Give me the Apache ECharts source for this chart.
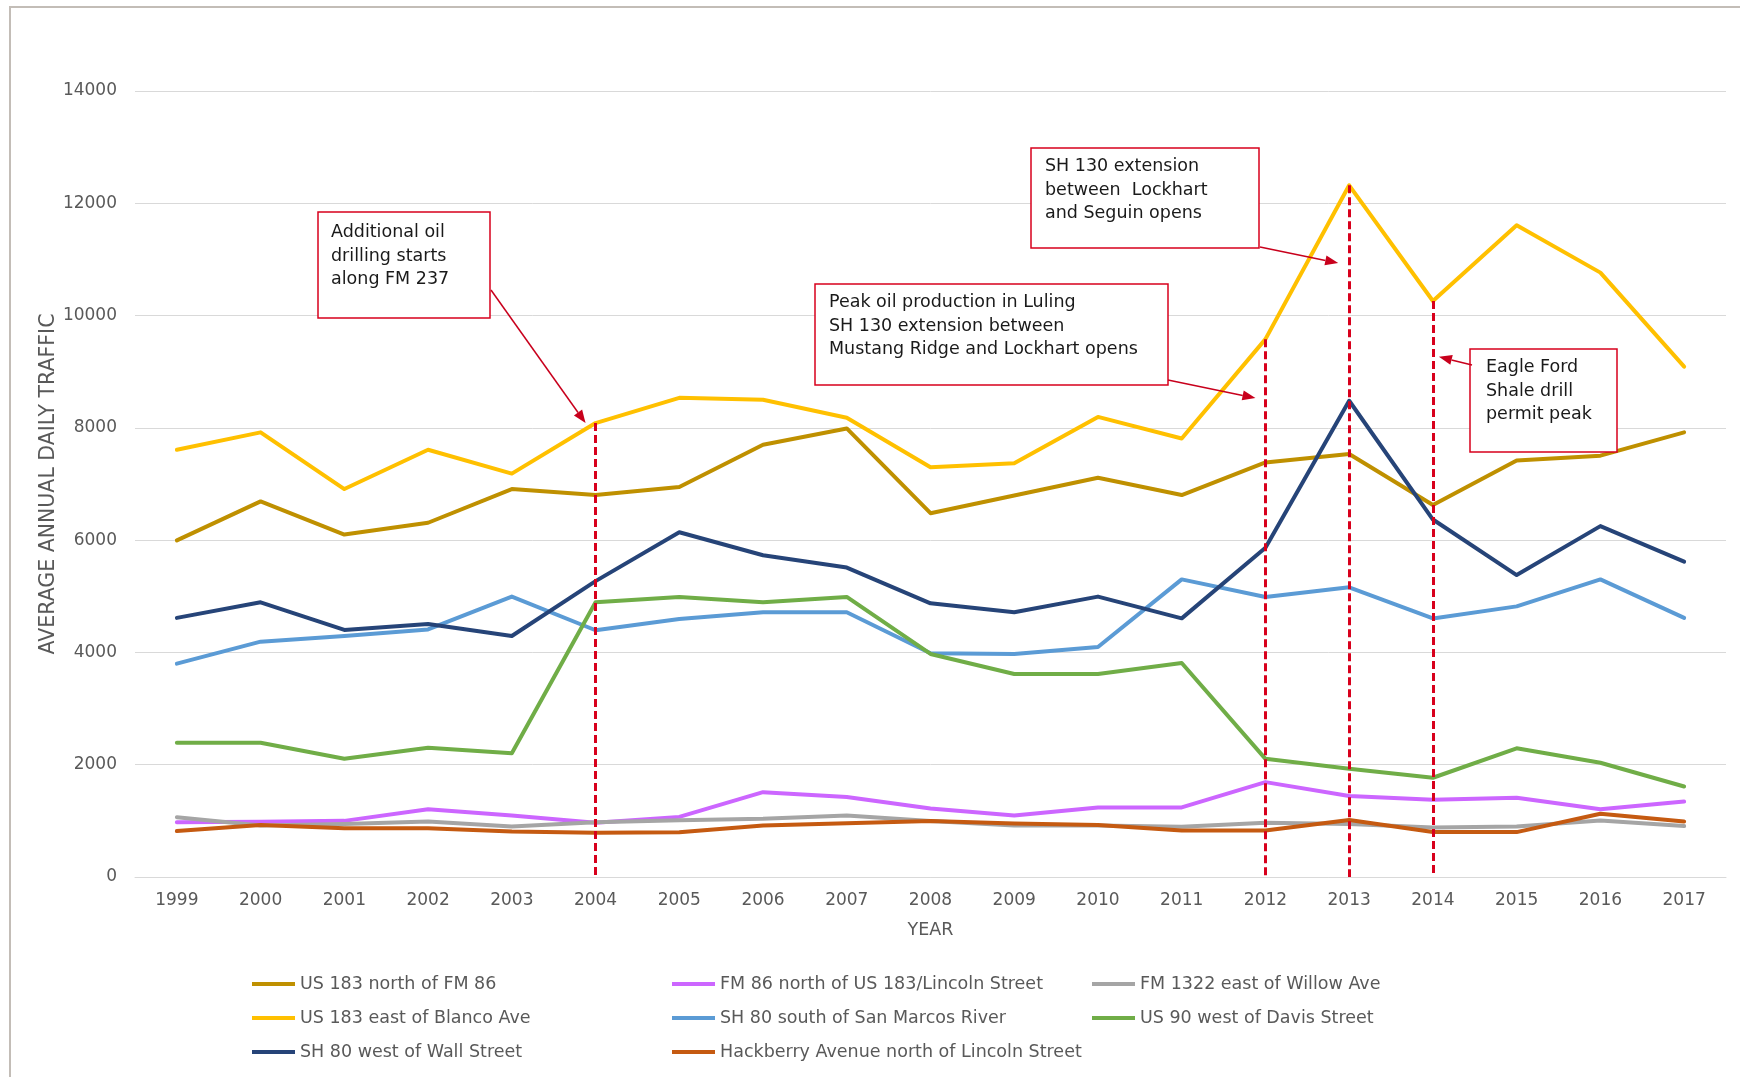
<!DOCTYPE html>
<html><head><meta charset="utf-8">
<script src="https://cdn.jsdelivr.net/npm/echarts@6/dist/echarts.min.js"></script>
<style>html,body{margin:0;padding:0;background:#fff}#c{width:1740px;height:1077px}</style>
</head><body><div id="c"></div>
<script>
// ---------- DATA ----------
const years = ['1999','2000','2001','2002','2003','2004','2005','2006','2007','2008','2009','2010','2011','2012','2013','2014','2015','2016','2017'];
const yTickValues = [0, 2000, 4000, 6000, 8000, 10000, 12000, 14000];

const us183NorthFM86   = [5995, 6690, 6100, 6310, 6910, 6803, 6946, 7700, 7990, 6480, 6795, 7110, 6803, 7385, 7534, 6625, 7420, 7505, 7920];
const fm86NorthUS183   = [977, 985, 1000, 1205, 1096, 968, 1071, 1511, 1424, 1219, 1096, 1239, 1239, 1690, 1443, 1378, 1412, 1205, 1343];
const fm1322EastWillow = [1065, 918, 942, 987, 899, 977, 1011, 1037, 1096, 996, 918, 918, 893, 968, 942, 883, 899, 1008, 908];
const us183EastBlanco  = [7610, 7920, 6910, 7610, 7185, 8085, 8535, 8500, 8180, 7297, 7370, 8195, 7810, 9580, 12320, 10260, 11610, 10765, 9090];
const sh80SouthSanMarcos = [3800, 4192, 4292, 4410, 4994, 4395, 4597, 4715, 4715, 3985, 3973, 4097, 5301, 4988, 5160, 4606, 4820, 5301, 4616];
const us90WestDavis    = [2392, 2392, 2105, 2302, 2205, 4893, 4988, 4893, 4988, 3973, 3617, 3617, 3811, 2105, 1927, 1768, 2293, 2035, 1612];
const sh80WestWall     = [4615, 4893, 4400, 4507, 4292, 5270, 6140, 5730, 5512, 4875, 4715, 4994, 4607, 5863, 8483, 6367, 5378, 6250, 5616];
const hackberryNorthLincoln = [818, 927, 868, 868, 809, 790, 799, 918, 958, 996, 952, 927, 827, 827, 1017, 800, 800, 1126, 987];

const seriesNames = [
  'US 183 north of FM 86',
  'FM 86 north of US 183/Lincoln Street',
  'FM 1322 east of Willow Ave',
  'US 183 east of Blanco Ave',
  'SH 80 south of San Marcos River',
  'US 90 west of Davis Street',
  'SH 80 west of Wall Street',
  'Hackberry Avenue north of Lincoln Street'
];
const seriesValues = [us183NorthFM86, fm86NorthUS183, fm1322EastWillow, us183EastBlanco, sh80SouthSanMarcos, us90WestDavis, sh80WestWall, hackberryNorthLincoln];
const seriesColors = ['#BF9000', '#CC66FF', '#A5A5A5', '#FFC000', '#5B9BD5', '#70AD47', '#264478', '#C55A11'];

const eventYears = ['2004', '2012', '2013', '2014'];
const annotationTexts = [
  'Additional oil\ndrilling starts\nalong FM 237',
  'SH 130 extension\nbetween  Lockhart\nand Seguin opens',
  'Peak oil production in Luling\nSH 130 extension between\nMustang Ridge and Lockhart opens',
  'Eagle Ford\nShale drill\npermit peak'
];
// arrow tips in data terms: [year, value]
const arrowTips = [['2004', 8085], ['2013', 10935], ['2012', 8530], ['2014', 9266]];

// ---------- CHART ----------
const FONT = '"DejaVu Sans", "Liberation Sans", Arial, sans-serif';
const chart = echarts.init(document.getElementById('c'), null, {renderer: 'canvas'});

const series = seriesNames.map((n, i) => ({
  name: n,
  type: 'line',
  data: seriesValues[i],
  symbol: 'none',
  smooth: false,
  color: seriesColors[i],
  lineStyle: {width: 4, color: seriesColors[i], cap: 'round', join: 'round'},
  emphasis: {disabled: true},
  z: 2 + i
}));
series[series.length - 1].markLine = {
  silent: true,
  symbol: ['none', 'none'],
  label: {show: false},
  emphasis: {disabled: true},
  lineStyle: {color: '#D8001C', width: 3, type: [8, 4]},
  data: eventYears.map(y => [
    {coord: [y, us183EastBlanco[years.indexOf(y)]]},
    {coord: [y, 0]}
  ]),
  z: 20
};

const legendBase = {
  orient: 'vertical', icon: 'rect', itemWidth: 43, itemHeight: 4, itemGap: 14,
  padding: 0, selectedMode: false,
  textStyle: {fontFamily: FONT, fontSize: 17.5, color: '#595959', lineHeight: 20}
};

chart.setOption({
  animation: false,
  backgroundColor: '#ffffff',
  grid: {left: 135, right: 14, top: 91, bottom: 200, containLabel: false},
  xAxis: {
    type: 'category', data: years, boundaryGap: true,
    name: 'YEAR', nameLocation: 'middle', nameGap: 44,
    nameTextStyle: {fontFamily: FONT, fontSize: 17.5, color: '#595959'},
    axisLine: {show: true, lineStyle: {color: '#d9d9d9', width: 1}},
    axisTick: {show: false},
    axisLabel: {fontFamily: FONT, fontSize: 17, color: '#595959', margin: 15}
  },
  yAxis: {
    type: 'value',
    min: yTickValues[0], max: yTickValues[yTickValues.length - 1],
    interval: yTickValues[1] - yTickValues[0],
    name: 'AVERAGE ANNUAL DAILY TRAFFIC', nameLocation: 'middle', nameGap: 76,
    nameMoveOverlap: false,
    nameTextStyle: {fontFamily: FONT, fontSize: 20.5, color: '#595959'},
    axisLine: {show: false}, axisTick: {show: false},
    axisLabel: {fontFamily: FONT, fontSize: 17, color: '#595959', margin: 18, formatter: v => String(v)},
    splitLine: {lineStyle: {color: '#d9d9d9', width: 1}}
  },
  legend: [
    Object.assign({}, legendBase, {left: 252, top: 974, data: [seriesNames[0], seriesNames[3], seriesNames[6]]}),
    Object.assign({}, legendBase, {left: 672, top: 974, data: [seriesNames[1], seriesNames[4], seriesNames[7]]}),
    Object.assign({}, legendBase, {left: 1092, top: 974, data: [seriesNames[2], seriesNames[5]]})
  ],
  series: series
});

// ---------- ANNOTATIONS ----------
const boxes = [
  {x: 318, y: 212, w: 172, h: 106, tx: 331, ty: 221, from: [491, 290], dx: -10},
  {x: 1031, y: 148, w: 228, h: 100, tx: 1045, ty: 155, from: [1260, 247], dx: -11},
  {x: 815, y: 284, w: 353, h: 101, tx: 829, ty: 291, from: [1168, 380], dx: -10},
  {x: 1470, y: 349, w: 147, h: 103, tx: 1486, ty: 356, from: [1472, 365], dx: 6}
];
const graphics = [{
  type: 'rect', z: 0, silent: true,
  shape: {x: 10, y: 7, width: 1780, height: 1120},
  style: {fill: 'none', stroke: '#c3bdb7', lineWidth: 2}
}];
boxes.forEach((b, i) => {
  graphics.push({
    type: 'rect', z: 30, silent: true,
    shape: {x: b.x, y: b.y, width: b.w, height: b.h},
    style: {fill: '#ffffff', stroke: '#D8001C', lineWidth: 1.5}
  });
  graphics.push({
    type: 'text', z: 31, silent: true, x: b.tx, y: b.ty,
    style: {text: annotationTexts[i], font: '17.5px ' + FONT, fill: '#1a1a1a', lineHeight: 23.5, verticalAlign: 'top', align: 'left'}
  });
  const p = chart.convertToPixel({xAxisIndex: 0, yAxisIndex: 0}, arrowTips[i]);
  const tip = [p[0] + b.dx, p[1]];
  const ang = Math.atan2(tip[1] - b.from[1], tip[0] - b.from[0]);
  const L = 13, W = 5;
  const base = [tip[0] - L * Math.cos(ang), tip[1] - L * Math.sin(ang)];
  const nx = -Math.sin(ang), ny = Math.cos(ang);
  graphics.push({
    type: 'line', z: 30, silent: true,
    shape: {x1: b.from[0], y1: b.from[1], x2: base[0], y2: base[1]},
    style: {stroke: '#C8001C', lineWidth: 1.5}
  });
  graphics.push({
    type: 'polygon', z: 30, silent: true,
    shape: {points: [tip, [base[0] + nx * W, base[1] + ny * W], [base[0] - nx * W, base[1] - ny * W]]},
    style: {fill: '#C8001C'}
  });
});
chart.setOption({graphic: graphics});
</script>
</body></html>
